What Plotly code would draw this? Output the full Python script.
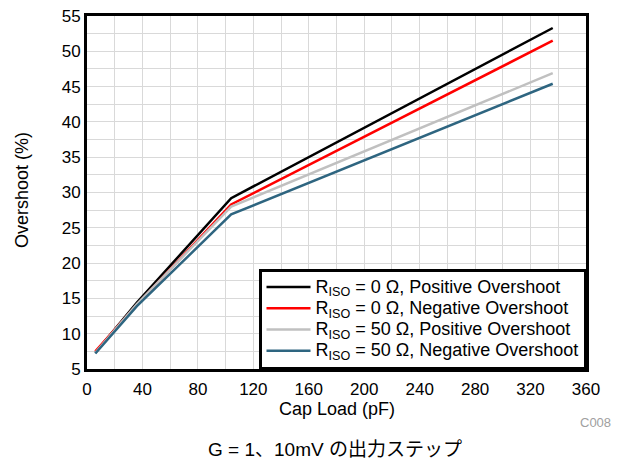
import plotly.graph_objects as go

cap_load = [6, 36, 104, 336]
riso0_pos = [7.3, 14.4, 29.2, 53.3]
riso0_neg = [7.5, 14.1, 28.3, 51.5]
riso50_pos = [7.3, 14.2, 28.0, 46.9]
riso50_neg = [7.2, 13.9, 26.9, 45.4]

names = [
    "R<sub>ISO</sub> = 0 Ω, Positive Overshoot",
    "R<sub>ISO</sub> = 0 Ω, Negative Overshoot",
    "R<sub>ISO</sub> = 50 Ω, Positive Overshoot",
    "R<sub>ISO</sub> = 50 Ω, Negative Overshoot",
]
colors = ["#000000", "#ff0000", "#c0c0c0", "#2e6580"]
series = [riso0_pos, riso0_neg, riso50_pos, riso50_neg]

FONT = "Liberation Sans, Arial, sans-serif"

fig = go.Figure()
for n, c, s in zip(names, colors, series):
    fig.add_trace(go.Scatter(x=cap_load, y=s, mode="lines",
                             name='<span style="font-size:18px">' + n + "</span>",
                             line=dict(color=c, width=2.5)))

# page body has an 8px margin; compensate so figure lands where the reference is
OFF = 8
W, H = 621 - OFF, 464 - OFF
L, T = 87 - OFF, 16 - OFF
R = W - (586 - OFF)
B = H - (369 - OFF)
pw, ph = W - L - R, H - T - B


def px_x(x):
    return (x - OFF - L) / pw


def px_y(y):
    return 1 - (y - OFF - T) / ph


fig.update_layout(
    width=W, height=H,
    margin=dict(l=L, r=R, t=T, b=B, autoexpand=False),
    paper_bgcolor="white", plot_bgcolor="white",
    font=dict(family=FONT, size=17, color="black"),
    showlegend=True,
    legend=dict(x=1, y=0, xanchor="right", yanchor="bottom",
                bordercolor="black", borderwidth=2.5, bgcolor="white",
                font=dict(size=14), tracegroupgap=0, itemwidth=44),
    xaxis=dict(range=[0, 360], tickvals=list(range(0, 361, 40)),
               showgrid=True, gridcolor="#d9d9d9", gridwidth=1,
               minor=dict(dtick=20, showgrid=True, gridcolor="#d9d9d9"),
               showline=True, linecolor="black", linewidth=3, mirror=True,
               ticks="", zeroline=False, automargin=False,
               ticklabelstandoff=3,
               ticklabeloverflow="allow", tickfont=dict(size=17)),
    yaxis=dict(range=[5, 55], tickvals=list(range(5, 56, 5)),
               showgrid=True, gridcolor="#d9d9d9", gridwidth=1,
               minor=dict(dtick=2.5, showgrid=True, gridcolor="#d9d9d9"),
               showline=True, linecolor="black", linewidth=3, mirror=True,
               ticks="", zeroline=False, automargin=False,
               ticklabeloverflow="allow", tickfont=dict(size=17)),
)

fig.add_annotation(text="Cap Load (pF)", xref="paper", yref="paper",
                   x=px_x(337), y=px_y(409), xanchor="center", yanchor="middle",
                   showarrow=False, font=dict(size=18, family=FONT))
fig.add_annotation(text="Overshoot (%)", xref="paper", yref="paper",
                   x=px_x(22), y=px_y(190), xanchor="center", yanchor="middle",
                   textangle=-90, showarrow=False, font=dict(size=18, family=FONT))
fig.add_annotation(text="C008", xref="paper", yref="paper",
                   x=px_x(613), y=px_y(422),
                   xanchor="right", yanchor="middle", showarrow=False,
                   font=dict(size=13, color="#a0a0a0", family=FONT))
fig.add_annotation(text="G = 1、10mV の出力ステップ", xref="paper", yref="paper",
                   x=px_x(335), y=px_y(449),
                   xanchor="center", yanchor="middle", showarrow=False,
                   font=dict(size=19, color="black",
                             family="Liberation Sans, Noto Sans CJK JP, sans-serif"))

fig.write_html("out.html")
